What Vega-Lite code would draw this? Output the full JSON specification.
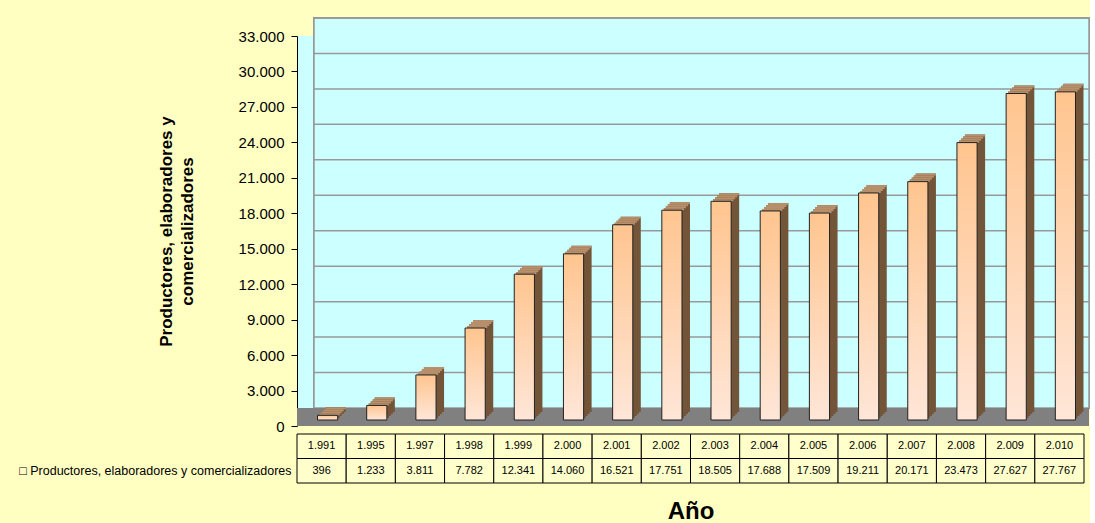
{
  "$schema": "https://vega.github.io/schema/vega-lite/v6.json",
  "background": "#ffffc2",
  "padding": {"left": 18, "top": 17, "right": 0, "bottom": 0},
  "config": {
    "locale": {"number": {"decimal": ",", "thousands": ".", "grouping": [3], "currency": ["", ""]}},
    "font": "Liberation Sans",
    "view": {"stroke": null, "fill": "#ccffff"},
    "concat": {"spacing": -5}
  },
  "datasets": {
    "main": [
      {"year": 1991, "v": 396},
      {"year": 1995, "v": 1233},
      {"year": 1997, "v": 3811},
      {"year": 1998, "v": 7782},
      {"year": 1999, "v": 12341},
      {"year": 2000, "v": 14060},
      {"year": 2001, "v": 16521},
      {"year": 2002, "v": 17751},
      {"year": 2003, "v": 18505},
      {"year": 2004, "v": 17688},
      {"year": 2005, "v": 17509},
      {"year": 2006, "v": 19211},
      {"year": 2007, "v": 20171},
      {"year": 2008, "v": 23473},
      {"year": 2009, "v": 27627},
      {"year": 2010, "v": 27767}
    ],
    "grid": [
      {"g": 3000}, {"g": 6000}, {"g": 9000}, {"g": 12000}, {"g": 15000}, {"g": 18000},
      {"g": 21000}, {"g": 24000}, {"g": 27000}, {"g": 30000}, {"g": 33000}
    ]
  },
  "vconcat": [
    {
      "width": 787,
      "height": 390,
      "layer": [
        {
          "data": {"name": "main"},
          "mark": {"type": "rect", "color": "#ccffff", "stroke": "#999999", "strokeWidth": 1.5, "xOffset": 17, "x2Offset": 5, "yOffset": -18, "y2Offset": -18},
          "encoding": {
            "x": {"value": 0},
            "x2": {"value": "width"},
            "y": {
              "datum": 33000, "type": "quantitative",
              "scale": {"domain": [0, 33000], "nice": false, "zero": true},
              "axis": {
                "values": [0, 3000, 6000, 9000, 12000, 15000, 18000, 21000, 24000, 27000, 30000, 33000],
                "format": ",.0f", "grid": false, "labelFontSize": 15, "labelColor": "#000000", "labelPadding": 7,
                "tickSize": 6, "tickColor": "#000000", "domainColor": "#000000",
                "title": ["Productores, elaboradores y", "comercializadores"],
                "titleFontSize": 17, "titleLineHeight": 21, "titleFontWeight": "bold", "titleColor": "#000000", "titlePadding": 42
              }
            },
            "y2": {"datum": 0}
          }
        },
        {
          "data": {"name": "grid"},
          "mark": {"type": "rule", "color": "#999999", "strokeWidth": 1.5, "xOffset": 17, "x2Offset": 5, "yOffset": -18},
          "encoding": {
            "x": {"value": 0},
            "x2": {"value": "width"},
            "y": {
              "field": "g", "type": "quantitative",
              "axis": {
                "values": [0, 3000, 6000, 9000, 12000, 15000, 18000, 21000, 24000, 27000, 30000, 33000],
                "format": ",.0f", "grid": false, "labelFontSize": 15, "labelColor": "#000000", "labelPadding": 7,
                "tickSize": 6, "tickColor": "#000000", "domainColor": "#000000",
                "title": ["Productores, elaboradores y", "comercializadores"],
                "titleFontSize": 17, "titleLineHeight": 21, "titleFontWeight": "bold", "titleColor": "#000000", "titlePadding": 42
              }
            }
          }
        },
        {
          "data": {"name": "main"},
          "mark": {"type": "rect", "color": "#808080", "x2Offset": 5, "y2Offset": -18},
          "encoding": {
            "x": {"value": 0},
            "x2": {"value": "width"},
            "y": {
              "datum": 0, "type": "quantitative",
              "axis": {
                "values": [0, 3000, 6000, 9000, 12000, 15000, 18000, 21000, 24000, 27000, 30000, 33000],
                "format": ",.0f", "grid": false, "labelFontSize": 15, "labelColor": "#000000", "labelPadding": 7,
                "tickSize": 6, "tickColor": "#000000", "domainColor": "#000000",
                "title": ["Productores, elaboradores y", "comercializadores"],
                "titleFontSize": 17, "titleLineHeight": 21, "titleFontWeight": "bold", "titleColor": "#000000", "titlePadding": 42
              }
            },
            "y2": {"datum": 0}
          }
        },
        {
          "data": {"name": "main"},
          "encoding": {
            "x": {"field": "year", "type": "nominal", "scale": {"paddingInner": 0, "paddingOuter": 0}, "axis": null},
            "y": {
              "field": "v", "type": "quantitative",
              "axis": {
                "values": [0, 3000, 6000, 9000, 12000, 15000, 18000, 21000, 24000, 27000, 30000, 33000],
                "format": ",.0f", "grid": false, "labelFontSize": 15, "labelColor": "#000000", "labelPadding": 7,
                "tickSize": 6, "tickColor": "#000000", "domainColor": "#000000",
                "title": ["Productores, elaboradores y", "comercializadores"],
                "titleFontSize": 17, "titleLineHeight": 21, "titleFontWeight": "bold", "titleColor": "#000000", "titlePadding": 42
              }
            }
          },
          "layer": [
            {"mark": {"type": "bar", "color": "#735539", "width": {"band": 0.41}, "xOffset": 14, "yOffset": -14, "y2Offset": -14}, "encoding": {"y2": {"datum": 0}}},
            {"mark": {"type": "bar", "color": "#735539", "width": {"band": 0.41}, "xOffset": 12, "yOffset": -12, "y2Offset": -12}, "encoding": {"y2": {"datum": 0}}},
            {"mark": {"type": "bar", "color": "#735539", "width": {"band": 0.41}, "xOffset": 10, "yOffset": -10, "y2Offset": -10}, "encoding": {"y2": {"datum": 0}}},
            {"mark": {"type": "bar", "color": "#735539", "width": {"band": 0.41}, "xOffset": 8, "yOffset": -8, "y2Offset": -8}, "encoding": {"y2": {"datum": 0}}},
            {"mark": {"type": "bar", "color": "#b8906c", "width": {"band": 0.41}, "xOffset": 14, "yOffset": -14, "y2Offset": -12}, "encoding": {"y2": {"field": "v"}}},
            {"mark": {"type": "bar", "color": "#b8906c", "width": {"band": 0.41}, "xOffset": 12, "yOffset": -12, "y2Offset": -10}, "encoding": {"y2": {"field": "v"}}},
            {"mark": {"type": "bar", "color": "#b8906c", "width": {"band": 0.41}, "xOffset": 10, "yOffset": -10, "y2Offset": -8}, "encoding": {"y2": {"field": "v"}}},
            {"mark": {"type": "bar", "color": "#b8906c", "width": {"band": 0.41}, "xOffset": 8, "yOffset": -8, "y2Offset": -6}, "encoding": {"y2": {"field": "v"}}},
            {
              "mark": {
                "type": "bar", "width": {"band": 0.41}, "xOffset": 6, "yOffset": -6, "y2Offset": -6,
                "stroke": "#222222", "strokeWidth": 1,
                "fill": {"gradient": "linear", "x1": 0, "y1": 0, "x2": 0, "y2": 1,
                  "stops": [{"offset": 0, "color": "#ffc58f"}, {"offset": 1, "color": "#ffe6d8"}]}
              },
              "encoding": {"y2": {"datum": 0}}
            }
          ]
        }
      ]
    },
    {
      "width": 787,
      "height": 49,
      "data": {"name": "main"},
      "encoding": {
        "x": {
          "field": "year", "type": "nominal",
          "scale": {"paddingInner": 0, "paddingOuter": 0},
          "axis": {
            "title": "Año", "labels": false, "ticks": false, "domain": false,
            "titleFontSize": 24, "titleFont": "Liberation Sans Narrow, Liberation Sans",
            "titleFontWeight": "bold", "titlePadding": 16, "titleColor": "#000000"
          }
        }
      },
      "layer": [
        {
          "mark": {"type": "rect", "fill": "#ffffcc", "stroke": "#000000", "strokeWidth": 1},
          "encoding": {
            "y": {
              "datum": "a", "type": "nominal",
              "scale": {"domain": ["a", "b"], "paddingInner": 0, "paddingOuter": 0},
              "axis": {
                "title": null, "ticks": false, "domain": false,
                "labelExpr": "datum.value == 'b' ? '□ Productores, elaboradores y comercializadores' : ''",
                "labelFontSize": 12.5, "labelColor": "#000000", "labelPadding": 6, "labelLimit": 500,
                "labelFont": "Liberation Sans"
              }
            }
          }
        },
        {
          "mark": {"type": "rect", "fill": "#ffffcc", "stroke": "#000000", "strokeWidth": 1},
          "encoding": {"y": {"datum": "b", "type": "nominal"}}
        },
        {
          "mark": {"type": "text", "fontSize": 11, "color": "#000000", "font": "Liberation Sans"},
          "encoding": {"y": {"datum": "a", "type": "nominal"}, "text": {"field": "year", "type": "quantitative", "format": ","}}
        },
        {
          "mark": {"type": "text", "fontSize": 11, "color": "#000000", "font": "Liberation Sans"},
          "encoding": {"y": {"datum": "b", "type": "nominal"}, "text": {"field": "v", "type": "quantitative", "format": ","}}
        }
      ]
    }
  ]
}
